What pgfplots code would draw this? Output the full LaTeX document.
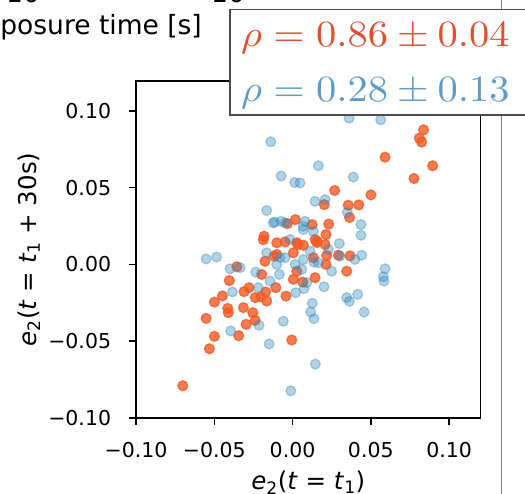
\documentclass[border=0pt]{standalone}
\usepackage{fontspec}
\setmainfont{DejaVu Sans}
\usepackage{pgfplots}
\usepackage{pgfplotstable}
\pgfplotsset{compat=1.18}
\definecolor{oc}{HTML}{F25A24}
\definecolor{bc}{HTML}{348ABD}
\definecolor{ot}{HTML}{E0502E}
\definecolor{bt}{HTML}{5E9CC8}
\pgfplotstableread{
x y
0.0837 0.0877
0.0810 0.0823
0.0825 0.0797
0.0591 0.0699
0.0895 0.0643
0.0776 0.0560
0.0501 0.0453
0.0269 0.0482
0.0423 0.0388
0.0356 0.0386
0.0364 0.0306
0.0203 0.0390
0.0231 0.0263
0.0125 0.0260
0.0214 0.0195
0.0158 0.0151
0.0069 0.0125
0.0367 0.0056
0.0293 0.0060
0.0218 0.0058
0.0018 0.0292
-0.0033 0.0266
-0.0182 0.0184
-0.0101 0.0141
0.0027 0.0141
-0.0118 0.0054
-0.0356 -0.0015
-0.0404 -0.0105
-0.0448 -0.0205
-0.0499 -0.0245
-0.0552 -0.0351
-0.0499 -0.0468
-0.0531 -0.0549
-0.0701 -0.0790
-0.0414 -0.0286
-0.0410 -0.0314
-0.0310 -0.0177
-0.0278 -0.0151
-0.0314 -0.0281
-0.0254 -0.0314
-0.0239 -0.0364
-0.0297 -0.0390
-0.0344 -0.0464
-0.0238 -0.0216
-0.0203 -0.0211
-0.0165 -0.0238
-0.0172 -0.0179
-0.0197 -0.0065
-0.0107 -0.0151
-0.0042 -0.0206
-0.0005 -0.0492
-0.0176 0.0021
0.0005 -0.0097
0.0065 -0.0115
0.0037 0.0130
0.0346 -0.0044
0.0214 0.0000
0.0144 -0.0086
0.0155 0.0143
-0.0048 0.0147
0.0144 0.0162
0.0208 0.0130
-0.0101 0.0065
0.0005 0.0076
0.0133 0.0044
0.0027 -0.0044
-0.0187 0.0161
}\orangedata
\pgfplotstableread{
x y
0.0361 0.0953
0.0563 0.0942
0.0165 0.0643
0.0388 0.0569
0.0048 0.0531
0.0014 0.0534
0.0144 0.0411
0.0208 0.0422
0.0350 0.0339
0.0437 0.0260
0.0437 0.0190
0.0299 0.0136
0.0442 0.0060
0.0067 0.0249
-0.0139 0.0799
-0.0073 0.0576
-0.0165 0.0351
-0.0114 0.0276
-0.0073 0.0281
0.0069 0.0227
-0.0552 0.0036
-0.0485 0.0048
-0.0165 0.0076
-0.0399 -0.0028
-0.0335 -0.0021
-0.0235 -0.0050
-0.0384 -0.0179
-0.0218 -0.0151
-0.0395 -0.0433
-0.0214 -0.0396
-0.0059 -0.0370
-0.0150 -0.0518
-0.0011 -0.0823
-0.0144 -0.0108
-0.0084 -0.0065
0.0020 -0.0184
0.0091 -0.0119
0.0591 -0.0028
0.0580 -0.0080
0.0584 -0.0108
0.0250 -0.0044
0.0201 -0.0145
0.0346 -0.0216
0.0363 -0.0240
0.0416 -0.0195
0.0457 -0.0310
0.0126 -0.0253
0.0116 -0.0310
0.0137 -0.0353
0.0146 -0.0649
0.0073 -0.0158
0.0137 0.0015
0.0059 -0.0032
0.0080 0.0281
0.0133 0.0216
-0.0016 0.0162
-0.0123 0.0271
-0.0048 0.0271
0.0229 0.0097
0.0112 0.0086
-0.0048 0.0044
-0.0101 0.0000
0.0165 0.0011
0.0303 0.0054
0.0399 0.0032
0.0016 0.0000
0.0069 0.0032
-0.0080 0.0045
}\bluedata
\begin{document}
\begin{tikzpicture}[x=1pt,y=1pt]
\useasboundingbox (0,0) rectangle (525,494);
\draw[line width=1.5pt, color=black!50] (501.5,-5) -- (501.5,500);
\node[anchor=base east, inner sep=0pt, font=\fontsize{26.5}{30}\selectfont] at (202,459) {Exposure time [s]};
\node[anchor=base west, inner sep=0pt, font=\fontsize{26.5}{30}\selectfont] at (6,491.5) {10};
\node[anchor=base west, inner sep=0pt, font=\fontsize{26.5}{30}\selectfont] at (211,491.5) {10};
\begin{axis}[
  at={(136pt,76pt)}, anchor=south west,
  scale only axis, width=344.7pt, height=337pt,
  xmin=-0.1, xmax=0.1202, ymin=-0.1, ymax=0.1195,
  axis line style={line width=1.5pt},
  tick pos=left, tick align=outside, major tick length=7pt,
  every tick/.style={black, line width=1.5pt},
  xtick={-0.1,-0.05,0,0.05,0.1},
  xticklabels={−0.10,−0.05,0.00,0.05,0.10},
  ytick={-0.1,-0.05,0,0.05,0.1},
  yticklabels={−0.10,−0.05,0.00,0.05,0.10},
  ticklabel style={font=\fontsize{20.5}{24}\selectfont, inner sep=0pt},
  xticklabel style={anchor=north, yshift=-17pt},
  yticklabel style={anchor=east, xshift=-17.7pt},
  clip=false,
]
\addplot[only marks, mark=*, mark size=4.9pt,
  mark options={fill=oc, draw=oc, line width=1.3pt, fill opacity=0.8, draw opacity=0.8}]
  table[x=x,y=y] {\orangedata};
\addplot[only marks, mark=*, mark size=4.9pt,
  mark options={fill=bc, draw=bc, line width=1.3pt, fill opacity=0.38, draw opacity=0.38}]
  table[x=x,y=y] {\bluedata};
\end{axis}
\node[anchor=base, inner sep=0pt, font=\fontsize{24.5}{28}\selectfont] at (308.3,4) {\textit{e}\textsubscript{2}(\textit{t} = \textit{t}\textsubscript{1})};
\node[anchor=base, rotate=90, inner sep=0pt, font=\fontsize{24.5}{28}\selectfont] at (36,244.5) {\textit{e}\textsubscript{2}(\textit{t} = \textit{t}\textsubscript{1} + 30s)};
\draw[fill=white, draw=black!70, line width=1.5pt] (230,379) rectangle (560,484.5);
\node[anchor=base west, inner sep=0pt, text=ot] at (241,447) {\scalebox{4.05}[3.7]{$\rho = 0.86 \pm 0.04$}};
\node[anchor=base west, inner sep=0pt, text=bt] at (241,392.3) {\scalebox{4.05}[3.7]{$\rho = 0.28 \pm 0.13$}};
\end{tikzpicture}
\end{document}
